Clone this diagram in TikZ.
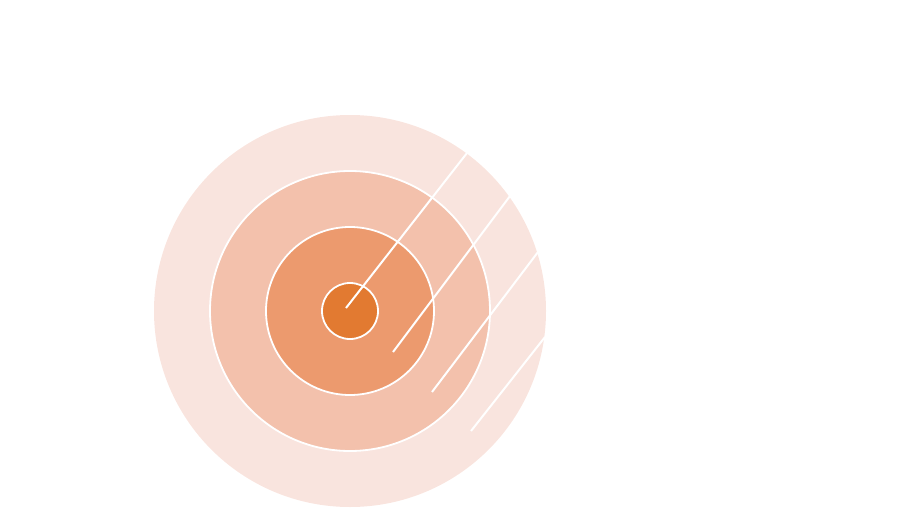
\documentclass[tikz,border=0pt]{standalone}
\definecolor{ringA}{HTML}{F9E4DE}
\definecolor{ringB}{HTML}{F3C1AC}
\definecolor{ringC}{HTML}{EC9A6E}
\definecolor{ringD}{HTML}{E27A31}
\tikzset{ringline/.style={draw=white,line width=1.8pt}}
\begin{document}
\begin{tikzpicture}[x=1pt,y=-1pt]
     \useasboundingbox (0,0) rectangle (899,525);
     \coordinate (c) at (350,311);
     \fill[ringA] (c) circle [radius=196];
     \fill[ringB,ringline] (c) circle [radius=140];
     \fill[ringC,ringline] (c) circle [radius=84];
     \fill[ringD,ringline] (c) circle [radius=28];
     \draw[white,line width=2pt] (346,308) -- (467,153);
     \draw[white,line width=2pt] (393,352) -- (510,196);
     \draw[white,line width=2pt] (432,392) -- (538,252);
     \draw[white,line width=2pt] (471,431) -- (545,337);
\end{tikzpicture}
\end{document}
